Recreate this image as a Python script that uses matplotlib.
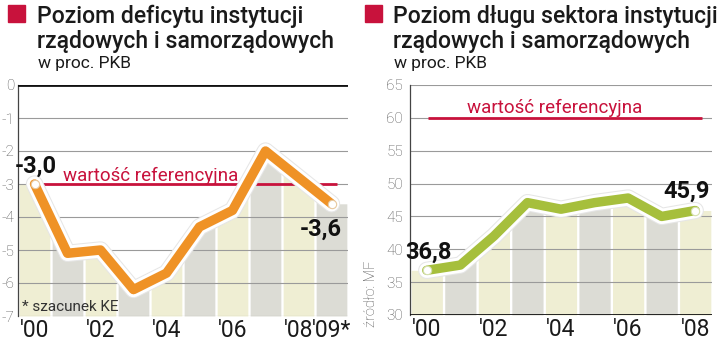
import numpy as np
import matplotlib
matplotlib.use("Agg")
import matplotlib.pyplot as plt
from matplotlib import font_manager
from matplotlib.patches import Rectangle
import matplotlib.patheffects as pe

# Deficit and debt of the general government sector, % of GDP
deficit_years = ["'00", "'01", "'02", "'03", "'04", "'05", "'06", "'07", "'08", "'09*"]
deficit = [-3.0, -5.1, -5.0, -6.2, -5.7, -4.3, -3.8, -2.0, -2.8, -3.6]
deficit_ref = -3.0

debt_years = ["'00", "'01", "'02", "'03", "'04", "'05", "'06", "'07", "'08"]
debt = [36.8, 37.6, 42.0, 47.1, 46.1, 47.1, 47.8, 45.0, 45.9]
debt_ref = 60.0

deficit_ticks = [0, -1, -2, -3, -4, -5, -6, -7]
debt_ticks = [65, 60, 55, 50, 45, 40, 35, 30]

W, H = 720, 343

available = {f.name for f in font_manager.fontManager.ttflist}
NARROW = "Liberation Sans Narrow" if "Liberation Sans Narrow" in available else "Roboto"
plt.rcParams["font.family"] = [NARROW, "DejaVu Sans"]

YELLOW = "#efeed3"
GREY = "#dcdcd5"
GRID = "#9a9a9a"
RED = "#c8123c"
ORANGE = "#ef9226"
GREEN = "#a6bf3c"


def fx(px):
    return px / W


def fy(py):
    return 1 - py / H


def panel(ax, values, labels, ticks, ref, color, top_black):
    n = len(values)
    x = np.arange(n)
    lo, hi = min(ticks), max(ticks)
    ax.set_xlim(-0.5, n - 0.5)
    ax.set_ylim(lo, hi)

    # stripes filled up to the line
    gap = 0.035
    for i in range(n):
        xs = np.linspace(i - 0.5 + gap, i + 0.5 - gap, 30)
        ys = np.interp(xs, x, values)
        ax.fill_between(xs, lo, ys, color=YELLOW if i % 2 == 0 else GREY,
                        lw=0, zorder=1)

    for t in ticks:
        if (top_black and t == hi) or (not top_black and t == lo):
            continue
        ax.axhline(t, color=GRID, lw=0.8, zorder=2)

    ax.axhline(ref, xmin=0.06, xmax=0.967, color=RED, lw=2.0, zorder=3,
               solid_capstyle="butt")

    ax.plot(x, values, color=color, lw=6.8, zorder=5, solid_joinstyle="round",
            solid_capstyle="round",
            path_effects=[pe.Stroke(linewidth=12.5, foreground="#e6e6e6"),
                          pe.Stroke(linewidth=11, foreground="white"),
                          pe.Normal()])
    ax.plot([x[0], x[-1]], [values[0], values[-1]], "o", ms=6,
            mfc="white", mec="#e8c9a0" if color == ORANGE else "#d6e0b0",
            mew=0.8, zorder=6)

    for s in ["right", "top", "bottom"]:
        ax.spines[s].set_visible(False)
    ax.spines["left"].set_color("#444444")
    ax.spines["left"].set_linewidth(0.9)
    if top_black:
        ax.axhline(hi, color="#111111", lw=2.0, zorder=4)
    else:
        ax.axhline(lo, color="#111111", lw=2.0, zorder=4)

    ax.set_yticks(ticks)
    ax.set_yticklabels([str(t) for t in ticks], fontweight="light")
    ax.tick_params(axis="y", length=0, pad=2.5, labelsize=11,
                   labelcolor="#555555")
    shown = [i for i in range(n) if i % 2 == 0 or i == n - 1]
    ax.set_xticks(shown)
    ax.set_xticklabels([labels[i] for i in shown])
    ax.tick_params(axis="x", length=0, pad=2.5, labelsize=16.5,
                   labelcolor="#1a1a1a")
    ax.set_facecolor("none")


fig = plt.figure(figsize=(W / 100, H / 100), dpi=100)

ax1 = fig.add_axes([fx(18), fy(316), fx(348 - 18), (316 - 85) / H])
panel(ax1, deficit, deficit_years, deficit_ticks, deficit_ref, ORANGE, True)

ax2 = fig.add_axes([fx(410), fy(315), fx(712 - 410), (315 - 85) / H])
panel(ax2, debt, debt_years, debt_ticks, debt_ref, GREEN, False)
ax2.tick_params(axis="y", pad=5)

# value labels at the first and last points
lab = dict(fontsize=17, fontweight="bold", color="#111111",
           textcoords="offset points", va="baseline", zorder=8)
ax1.annotate("-3,0", xy=(0, deficit[0]), xytext=(1, 8), ha="center", **lab)
ax1.annotate("-3,6", xy=(len(deficit) - 1, deficit[-1]), xytext=(-8, -23),
             ha="center", **lab)
ax2.annotate("36,8", xy=(0, debt[0]), xytext=(1.5, 8), ha="center", **lab)
ax2.annotate("45,9", xy=(len(debt) - 1, debt[-1]), xytext=(-6, 9.5),
             ha="center", **lab)

ref_lab = dict(fontsize=13.5, color=RED, textcoords="offset points",
               va="baseline", ha="left", zorder=7)
ax1.annotate("wartość referencyjna", xy=(0.86, deficit_ref), xytext=(0, 2.5),
             **ref_lab)
ax2.annotate("wartość referencyjna", xy=(1.2, debt_ref), xytext=(0, 3.5),
             **ref_lab)

# headers
for sx, tx, l1 in [(8, 37, "Poziom deficytu instytucji"),
                   (365, 393, "Poziom długu sektora instytucji")]:
    fig.patches.append(Rectangle((fx(sx), fy(22)), fx(17), 17 / H,
                                 transform=fig.transFigure, color=RED))
    fig.text(fx(tx), fy(23), l1, fontsize=16.6, fontweight="medium",
             color="#1a1a1a", va="baseline")
    fig.text(fx(tx), fy(48), "rządowych i samorządowych", fontsize=16.6,
             fontweight="medium", color="#1a1a1a", va="baseline")
    fig.text(fx(tx + 1), fy(68), "w proc. PKB", fontsize=12.5,
             color="#1a1a1a", va="baseline")

fig.text(fx(22), fy(311), "* szacunek KE", fontsize=11, color="#333333",
         va="baseline")
fig.text(fx(371), fy(294), "źródło: MF", fontsize=10.5, color="#555555",
         fontweight="light", rotation=90, ha="center", va="center")

fig.savefig("out.png", dpi=100, facecolor="white")
